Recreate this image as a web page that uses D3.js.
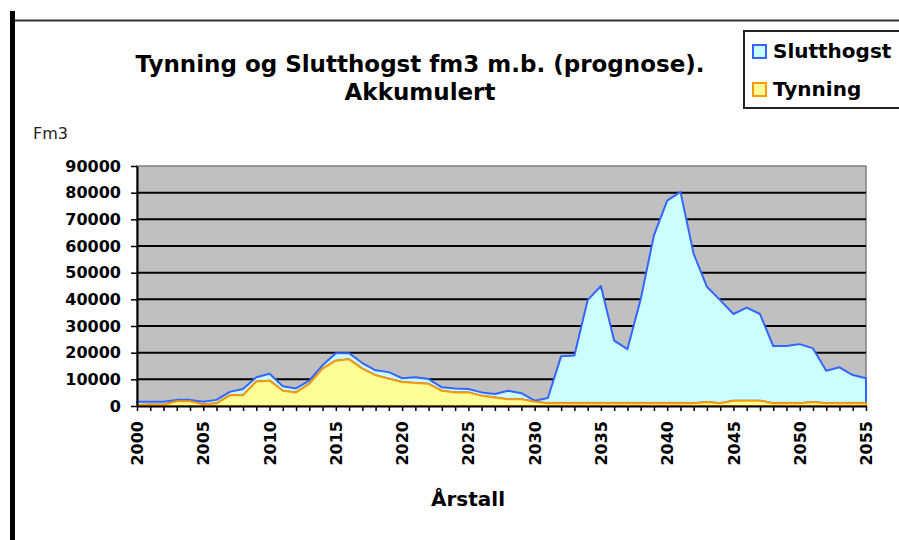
<!DOCTYPE html>
<html>
<head>
<meta charset="utf-8">
<script src="https://cdn.jsdelivr.net/npm/d3@7"></script>
<style>
  body { margin: 0; background: #fff; }
  svg { display: block; }
  text { font-family: "DejaVu Sans", sans-serif; }
</style>
</head>
<body>
<div id="Area"></div>
<script>
// Data (fm3, accumulated per year)
var years = d3.range(2000, 2056);

var tynning = [
    400, 600, 500, 1800, 1800, 600, 1000, 4000, 4000, 9200,
    9500, 5700, 5100, 8300, 14000, 17000, 17500, 14000, 11500, 10200,
    9000, 8600, 8300, 5700, 5100, 5100, 3800, 3200, 2500, 2500,
    1600, 1000, 1000, 1000, 1000, 1000, 1000, 1000, 1000, 1000,
    1000, 1000, 1000, 1500, 1000, 2000, 2000, 2000, 1000, 1000,
    1000, 1500, 1000, 1000, 1000, 1000
];

var slutthogst = [
    1200, 1000, 1100, 500, 500, 1000, 1300, 1300, 2400, 1600,
    2600, 1700, 1500, 1200, 1300, 2800, 2300, 2100, 1900, 2500,
    1400, 2200, 1800, 1300, 1500, 1300, 1300, 1300, 3200, 2300,
    400, 2000, 17700, 17900, 38700, 44000, 23500, 20300, 39000, 63000,
    76000, 79300, 56000, 43200, 38700, 32500, 34900, 32500, 21500, 21500,
    22200, 20100, 12200, 13500, 10600, 9400
];

var yTicks = [0, 10000, 20000, 30000, 40000, 50000, 60000, 70000, 80000, 90000];
var xLabelYears = [2000, 2005, 2010, 2015, 2020, 2025, 2030, 2035, 2040, 2045, 2050, 2055];

var seriesKeys = ["tynning", "slutthogst"];
var legendItems = [
    {key: "slutthogst", label: "Slutthogst"},
    {key: "tynning", label: "Tynning"}
];
var fills = {slutthogst: "#CCFFFF", tynning: "#FFFF99"};
var strokes = {slutthogst: "#3366FF", tynning: "#FF9900"};

var width = 899;
var height = 540;
var plot = {left: 137, right: 866, top: 166, bottom: 406};

var svg = d3.select("#Area")
    .append("svg")
    .attr("width", width)
    .attr("height", height);

// frame lines of the original sheet
svg.append("line")
    .attr("x1", 14).attr("x2", width)
    .attr("y1", 20.5).attr("y2", 20.5)
    .attr("stroke", "#333").attr("stroke-width", 2);
svg.append("rect")
    .attr("x", 10).attr("y", 11)
    .attr("width", 5).attr("height", height - 11)
    .attr("fill", "#000");

var x = d3.scaleLinear()
    .domain([2000, 2055])
    .range([plot.left, plot.right]);

var y = d3.scaleLinear()
    .domain([0, 90000])
    .range([plot.bottom, plot.top]);

// plot background
svg.append("rect")
    .attr("x", plot.left).attr("y", plot.top)
    .attr("width", plot.right - plot.left)
    .attr("height", plot.bottom - plot.top)
    .attr("fill", "#C0C0C0")
    .attr("stroke", "#808080")
    .attr("stroke-width", 1.5);

// gridlines
svg.append("g")
    .selectAll("line")
    .data(yTicks.filter(function(d) { return d > 0 && d < 90000; }))
    .enter()
    .append("line")
    .attr("x1", plot.left).attr("x2", plot.right)
    .attr("y1", function(d) { return y(d); })
    .attr("y2", function(d) { return y(d); })
    .attr("stroke", "#000")
    .attr("stroke-width", 2);

// stacked areas
var table = years.map(function(yr, i) {
    return {year: yr, tynning: tynning[i], slutthogst: slutthogst[i]};
});
var stacked = d3.stack().keys(seriesKeys)(table);

var area = d3.area()
    .x(function(d) { return x(d.data.year); })
    .y0(function(d) { return y(d[0]); })
    .y1(function(d) { return y(d[1]); });

// upper series first so the orange outline of Tynning stays visible
svg.append("g")
    .selectAll("path")
    .data(stacked.slice().reverse())
    .enter()
    .append("path")
    .attr("d", area)
    .attr("fill", function(d) { return fills[d.key]; })
    .attr("stroke", function(d) { return strokes[d.key]; })
    .attr("stroke-width", 2)
    .attr("stroke-linejoin", "round");

// y axis
var yAxis = svg.append("g")
    .attr("transform", "translate(" + plot.left + ",0)")
    .call(d3.axisLeft(y).tickValues(yTicks).tickSize(6).tickSizeOuter(0).tickPadding(10)
        .tickFormat(function(d) { return d; }));
yAxis.select(".domain").attr("stroke", "#000").attr("stroke-width", 2);
yAxis.selectAll(".tick line").attr("stroke", "#000").attr("stroke-width", 1.5);
yAxis.selectAll(".tick text")
    .attr("fill", "#000")
    .style("font-family", "DejaVu Sans")
    .style("font-weight", "bold")
    .style("font-size", "16px");

// x axis
var xAxis = svg.append("g")
    .attr("transform", "translate(0," + plot.bottom + ")")
    .call(d3.axisBottom(x).tickValues(years).tickSize(5).tickSizeOuter(0)
        .tickFormat(function(d) { return xLabelYears.indexOf(d) >= 0 ? d : ""; }));
xAxis.select(".domain").attr("stroke", "#000").attr("stroke-width", 2);
xAxis.selectAll(".tick line").attr("stroke", "#000").attr("stroke-width", 1.5);
xAxis.selectAll(".tick text")
    .attr("fill", "#000")
    .attr("transform", "rotate(-90)")
    .attr("x", -15)
    .attr("y", 0)
    .attr("dy", "0.35em")
    .attr("text-anchor", "end")
    .style("font-family", "DejaVu Sans")
    .style("font-weight", "bold")
    .style("font-size", "16px");

// titles
svg.append("text")
    .attr("x", 420).attr("y", 72)
    .attr("text-anchor", "middle")
    .style("font-weight", "bold")
    .style("font-size", "23px")
    .text("Tynning og Slutthogst fm3 m.b. (prognose).");
svg.append("text")
    .attr("x", 420).attr("y", 100)
    .attr("text-anchor", "middle")
    .style("font-weight", "bold")
    .style("font-size", "23px")
    .text("Akkumulert");

svg.append("text")
    .attr("x", 33).attr("y", 139)
    .attr("fill", "#222")
    .style("font-size", "16px")
    .text("Fm3");

svg.append("text")
    .attr("x", 468).attr("y", 506)
    .attr("text-anchor", "middle")
    .style("font-weight", "bold")
    .style("font-size", "20px")
    .text("Årstall");

// legend
var legend = svg.append("g");
legend.append("rect")
    .attr("x", 744).attr("y", 31)
    .attr("width", 200).attr("height", 77)
    .attr("fill", "#fff")
    .attr("stroke", "#222")
    .attr("stroke-width", 2);

var items = legend.selectAll("g.item")
    .data(legendItems)
    .enter()
    .append("g")
    .attr("class", "item")
    .attr("transform", function(d, i) { return "translate(0," + (i * 38) + ")"; });
items.append("rect")
    .attr("x", 753).attr("y", 45)
    .attr("width", 13).attr("height", 13)
    .attr("fill", function(d) { return fills[d.key]; })
    .attr("stroke", function(d) { return strokes[d.key]; })
    .attr("stroke-width", 2);
items.append("text")
    .attr("x", 773).attr("y", 58)
    .style("font-weight", "bold")
    .style("font-size", "20px")
    .text(function(d) { return d.label; });
</script>
</body>
</html>
